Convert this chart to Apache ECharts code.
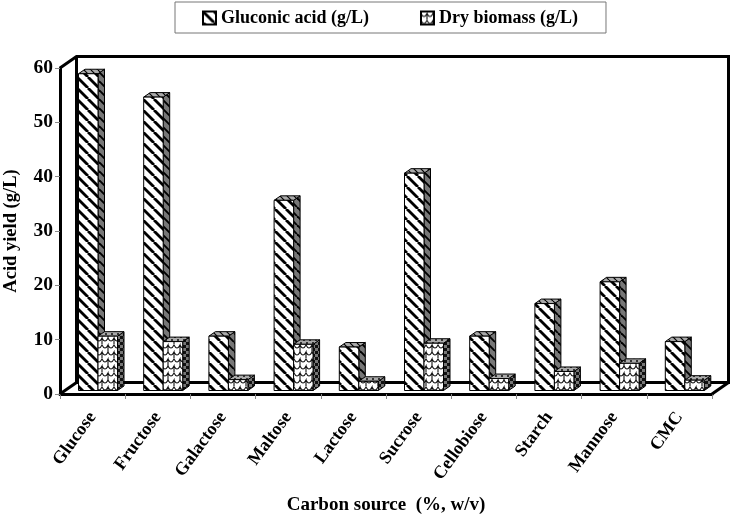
<!DOCTYPE html>
<html><head><meta charset="utf-8">
<style>html,body{margin:0;padding:0;background:#fff}#c{width:730px;height:516px}</style>
<script src="https://cdn.jsdelivr.net/npm/echarts@6/dist/echarts.min.js"></script>
</head><body><div id="c"></div>
<script>
var categories = ['Glucose','Fructose','Galactose','Maltose','Lactose','Sucrose','Cellobiose','Starch','Mannose','CMC'];
var gluconicAcid = [58.3,54,10,35,8,40,10,16,20,9];
var dryBiomass = [10,9,2,8.5,1.7,8.7,2.2,3.5,5,1.9];
var FONT = '"Liberation Serif","Times New Roman",serif';

function tile(w, h, bg, draw){
  var c = document.createElement('canvas'); c.width = w; c.height = h;
  var g = c.getContext('2d'); g.fillStyle = bg; g.fillRect(0,0,w,h);
  g.strokeStyle = '#000'; draw(g);
  return {image:c, repeat:'repeat'};
}
function hatch(bg, w, s){
  return tile(s, s, bg, function(g){
    g.lineWidth = w;
    [-s,0,s].forEach(function(o){ g.beginPath(); g.moveTo(o,0); g.lineTo(o+s,s); g.stroke(); });
  });
}
function scales(bg){
  return tile(12, 14, bg, function(g){
    g.lineWidth = 1.1; g.strokeStyle = '#111';
    g.beginPath(); g.moveTo(0,2); g.quadraticCurveTo(3,8,6,2); g.lineTo(6,8);
    g.moveTo(6,2); g.quadraticCurveTo(9,8,12,2); g.stroke();
    g.beginPath(); g.moveTo(-6,9); g.quadraticCurveTo(-3,15,0,9); g.lineTo(0,14);
    g.moveTo(0,9); g.quadraticCurveTo(3,15,6,9); g.quadraticCurveTo(9,15,12,9); g.lineTo(12,14); g.stroke();
    g.beginPath(); g.moveTo(0,0); g.lineTo(0,2); g.moveTo(12,0); g.lineTo(12,2); g.stroke();
  });
}
var pGluFront = hatch('#fff',2.8,11), pGluSide = hatch('#777',1.9,9), pGluTop = hatch('#aaa',1.2,7);
var pBioFront = scales('#fff');
var pBioSide = tile(6,6,'#777',function(g){g.fillStyle='#111';g.fillRect(0,0,3,3);g.fillRect(3,3,3,3);});
var pBioTop = tile(6,6,'#aaa',function(g){g.fillStyle='#333';g.fillRect(0,0,2,2);g.fillRect(3,3,2,2);});

var BAR_W = 19.5, DX = 6.5, DY = 4.5, SHIFT_X = 5.4, SHIFT_Y = 3.5, WALL_X = 16.5, WALL_Y = 11.5;

function barRenderer(side, front, sidePat, topPat){
  return function(params, api){
    var top = api.coord([api.value(0), api.value(1)]);
    var base = api.coord([api.value(0), 0]);
    var x0 = top[0] + SHIFT_X + (side < 0 ? -BAR_W : 0);
    var x1 = x0 + BAR_W;
    var y0 = top[1] - SHIFT_Y, y1 = base[1] - SHIFT_Y;
    var st = {stroke:'#000', lineWidth:1};
    return {type:'group', children:[
      {type:'polygon', shape:{points:[[x1,y0],[x1+DX,y0-DY],[x1+DX,y1-DY],[x1,y1]]}, style:Object.assign({fill:sidePat},st)},
      {type:'polygon', shape:{points:[[x0,y0],[x0+DX,y0-DY],[x1+DX,y0-DY],[x1,y0]]}, style:Object.assign({fill:topPat},st)},
      {type:'rect', shape:{x:x0,y:y0,width:BAR_W,height:y1-y0}, style:Object.assign({fill:front},st)}
    ]};
  };
}
function wallRenderer(params, api){
  var cs = params.coordSys;
  var l = cs.x, r = cs.x + cs.width, b = cs.y + cs.height, t = cs.y;
  var st = {stroke:'#000', lineWidth:3, fill:'none', lineJoin:'miter'};
  function pl(p){ return {type:'polyline', shape:{points:p}, style:st}; }
  return {type:'group', children:[
    pl([[l,t],[l+WALL_X,t-WALL_Y],[r+WALL_X,t-WALL_Y],[r+WALL_X,b-WALL_Y],[l+WALL_X,b-WALL_Y],[l+WALL_X,t-WALL_Y]]),
    pl([[l,b],[l+WALL_X,b-WALL_Y]]),
    pl([[r,b],[r+WALL_X,b-WALL_Y]])
  ]};
}
var chart = echarts.init(document.getElementById('c'), null, {renderer:'canvas'});
chart.setOption({
  animation:false,
  backgroundColor:'#fff',
  grid:{left:60, right:18, top:68, bottom:122, containLabel:false, outerBoundsMode:'none'},
  legend:{
    top:2, left:175, orient:'horizontal',
    padding:[7,28,6,27], itemGap:51, itemWidth:13, itemHeight:13,
    borderColor:'#777', borderWidth:1, icon:'rect',
    textStyle:{fontFamily:FONT, fontWeight:'bold', fontSize:18, color:'#000'},
    data:[
      {name:'Gluconic acid (g/L)', itemStyle:{color:pGluFront, borderColor:'#000', borderWidth:2}},
      {name:'Dry biomass (g/L)', itemStyle:{color:pBioFront, borderColor:'#000', borderWidth:2}}
    ]
  },
  xAxis:{
    type:'category', data:categories, name:'Carbon source  (%, w/v)', nameLocation:'middle', nameGap:102,
    nameTextStyle:{fontFamily:FONT, fontWeight:'bold', fontSize:19, color:'#000'},
    axisLine:{lineStyle:{color:'#000', width:3}},
    axisTick:{show:true, length:5, lineStyle:{color:'#888', width:1}},
    axisLabel:{rotate:54, margin:20, interval:0, fontFamily:FONT, fontWeight:'bold', fontSize:18, color:'#000'},
    splitLine:{show:false}
  },
  yAxis:{
    type:'value', min:0, max:60, interval:10, name:'Acid yield (g/L)', nameLocation:'middle', nameGap:39,
    nameTextStyle:{fontFamily:FONT, fontWeight:'bold', fontSize:18.5, color:'#000'},
    axisLine:{show:true, lineStyle:{color:'#000', width:3}},
    axisTick:{show:true, length:5, lineStyle:{color:'#888', width:1}},
    axisLabel:{margin:7, fontFamily:FONT, fontWeight:'bold', fontSize:19.5, color:'#000'},
    splitLine:{show:false}
  },
  series:[
    {type:'custom', name:'wall', silent:true, z:1, data:[[0,0]], renderItem:wallRenderer, clip:false, encode:{x:0,y:1}},
    {type:'custom', name:'Gluconic acid (g/L)', z:3, clip:false, itemStyle:{color:pGluFront},
     data:gluconicAcid.map(function(v,i){return [i,v];}), encode:{x:0,y:1},
     renderItem:barRenderer(-1,pGluFront,pGluSide,pGluTop)},
    {type:'custom', name:'Dry biomass (g/L)', z:4, clip:false, itemStyle:{color:pBioFront},
     data:dryBiomass.map(function(v,i){return [i,v];}), encode:{x:0,y:1},
     renderItem:barRenderer(1,pBioFront,pBioSide,pBioTop)}
  ]
});
</script></body></html>
